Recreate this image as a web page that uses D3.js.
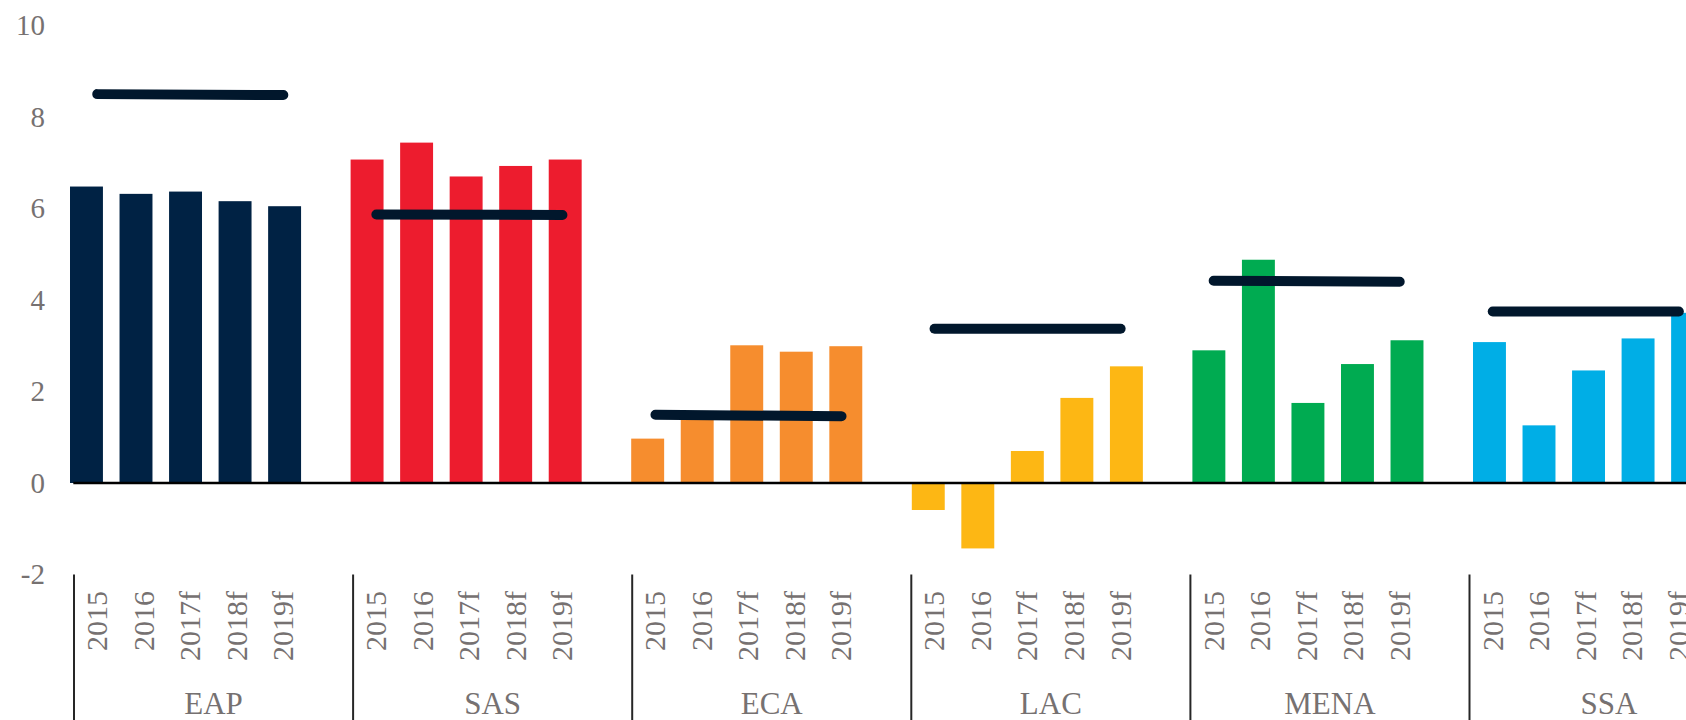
<!DOCTYPE html>
<html>
<head>
<meta charset="utf-8">
<script src="https://cdn.jsdelivr.net/npm/d3@7"></script>
<style>
  body { margin: 0; background: #fff; }
  svg { display: block; }
  text { font-family: "Liberation Serif", "DejaVu Serif", serif; fill: #767171; }
  .y-axis text { font-size: 29px; }
  .year-label { font-size: 30px; }
  .region-label { font-size: 31px; }
</style>
</head>
<body>
<div id="chart"></div>
<script>
// categories
const regions = ["EAP", "SAS", "ECA", "LAC", "MENA", "SSA"];
const years = ["2015", "2016", "2017f", "2018f", "2019f"];
const yTicks = [-2, 0, 2, 4, 6, 8, 10];

// growth by region, one value per year
const eapGrowth = [6.48, 6.32, 6.37, 6.16, 6.05];
const sasGrowth = [7.07, 7.44, 6.70, 6.93, 7.07];
const ecaGrowth = [0.97, 1.45, 3.01, 2.87, 2.99];
const lacGrowth = [-0.59, -1.43, 0.70, 1.86, 2.55];
const menaGrowth = [2.90, 4.88, 1.75, 2.60, 3.12];
const ssaGrowth = [3.08, 1.26, 2.46, 3.16, 3.72];

// long-term average lines (left end, right end)
const avgStart = [8.50, 5.87, 1.49, 3.37, 4.42, 3.75];
const avgEnd = [8.48, 5.86, 1.46, 3.37, 4.40, 3.75];

const regionColors = ["#002244", "#ed1c2e", "#f68d2e", "#fdb714", "#00ab51", "#00aee6"];

const width = 1686;
const height = 720;

const growthRows = [eapGrowth, sasGrowth, ecaGrowth, lacGrowth, menaGrowth, ssaGrowth];
const barData = [];
regions.forEach((r, i) => {
  years.forEach((y, j) => {
    barData.push({ region: r, year: y, value: growthRows[i][j], color: regionColors[i] });
  });
});

const svg = d3.select("#chart")
  .append("svg")
  .attr("width", width)
  .attr("height", height);

const yScale = d3.scaleLinear().domain([-2, 10]).range([574.5, 25.5]);

// axis groups (labels + dividers)
const groupX = d3.scaleBand().domain(regions).range([74, 74 + 6 * 279.1]);
const slotX = d3.scaleBand().domain([...years, "gap"]).range([0, groupX.bandwidth()]);

// bar groups sit slightly wider apart than the label groups
const barGroupX = d3.scaleBand().domain(regions).range([70, 70 + 6 * 280.6]);
const barX = d3.scaleBand()
  .domain([...years, "gap"])
  .range([0, barGroupX.bandwidth()])
  .paddingInner(0.335)
  .paddingOuter(0);

// y axis labels only
svg.append("g")
  .attr("class", "y-axis")
  .attr("transform", "translate(45,0)")
  .call(d3.axisLeft(yScale).tickValues(yTicks).tickSize(0).tickPadding(0).tickFormat(d => String(d)))
  .call(g => g.select(".domain").remove());

// bars
svg.append("g")
  .selectAll("rect")
  .data(barData)
  .enter().append("rect")
  .attr("x", d => barGroupX(d.region) + barX(d.year))
  .attr("width", barX.bandwidth())
  .attr("y", d => yScale(Math.max(0, d.value)))
  .attr("height", d => Math.abs(yScale(d.value) - yScale(0)))
  .attr("fill", d => d.color);

// zero line
svg.append("line")
  .attr("x1", groupX.range()[0] - 0.7)
  .attr("x2", width)
  .attr("y1", yScale(0))
  .attr("y2", yScale(0))
  .style("stroke", "#000")
  .style("stroke-width", 2.4);

// average lines
const slotCenter = y => slotX(y) + slotX.bandwidth() / 2;
svg.append("g")
  .selectAll("line")
  .data(regions)
  .enter().append("line")
  .attr("x1", r => groupX(r) + slotCenter(years[0]))
  .attr("x2", r => groupX(r) + slotCenter(years[years.length - 1]))
  .attr("y1", (r, i) => yScale(avgStart[i]))
  .attr("y2", (r, i) => yScale(avgEnd[i]))
  .style("stroke", "#01172c")
  .style("stroke-width", 10)
  .style("stroke-linecap", "round");

// group dividers
svg.append("g")
  .selectAll("line")
  .data(regions)
  .enter().append("line")
  .attr("x1", r => groupX(r))
  .attr("x2", r => groupX(r))
  .attr("y1", yScale(-2))
  .attr("y2", height)
  .style("stroke", "#262626")
  .style("stroke-width", 2);

// year labels, rotated
const yearLabels = [];
regions.forEach(r => years.forEach(y => yearLabels.push({ region: r, year: y })));

svg.append("g")
  .selectAll("text")
  .data(yearLabels)
  .enter().append("text")
  .attr("class", "year-label")
  .attr("transform", d => `translate(${groupX(d.region) + slotCenter(d.year)}, 591) rotate(-90)`)
  .attr("dy", "0.33em")
  .style("text-anchor", "end")
  .text(d => d.year);

// region labels
svg.append("g")
  .selectAll("text")
  .data(regions)
  .enter().append("text")
  .attr("class", "region-label")
  .attr("x", r => groupX(r) + groupX.bandwidth() / 2)
  .attr("y", 714)
  .style("text-anchor", "middle")
  .text(r => r);
</script>
</body>
</html>
